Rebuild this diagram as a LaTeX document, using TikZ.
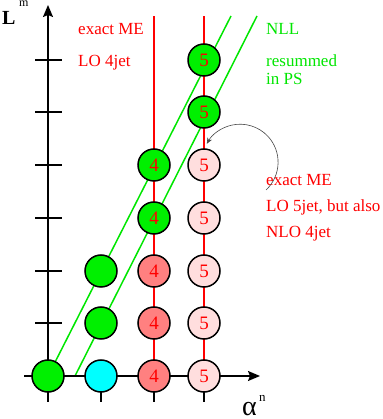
\documentclass[tikz,border=0pt]{standalone}
\usepackage{fontspec}
\setmainfont{Liberation Serif}
\usetikzlibrary{arrows.meta}
\definecolor{cgreen}{RGB}{0,240,0}
\definecolor{lgreen}{RGB}{0,230,0}
\definecolor{ccyan}{RGB}{0,255,255}
\definecolor{csalmon}{RGB}{255,128,128}
\definecolor{cpink}{RGB}{255,222,222}
\definecolor{cred}{RGB}{255,0,0}
\definecolor{cgray}{RGB}{70,70,70}
\begin{document}
\begin{tikzpicture}[x=1pt,y=1pt,
  ax/.style={line width=1.6pt,black},
  axarrow/.style={ax,-{Stealth[length=12pt,width=10pt,inset=2pt]}},
  tick/.style={line width=1.6pt,black},
  redline/.style={line width=1.5pt,cred},
  grnline/.style={line width=1.5pt,lgreen},
  dot/.style={circle,draw=black,line width=1.5pt,minimum size=32pt,inner sep=0pt,
    font=\fontsize{19}{19}\selectfont,text=cred},
  gdot/.style={dot,fill=cgreen},
  cdot/.style={dot,fill=ccyan},
  sdot/.style={dot,fill=csalmon},
  pdot/.style={dot,fill=cpink},
  redtxt/.style={anchor=base west,inner sep=0pt,text=cred,font=\fontsize{17}{20}\selectfont},
  grntxt/.style={anchor=base west,inner sep=0pt,text=lgreen,font=\fontsize{17}{20}\selectfont},
  arcstyle/.style={line width=0.6pt,cgray,-{Stealth[length=6pt,width=5pt]}}
]
\useasboundingbox (0,0) rectangle (382,419);

% coordinates
\coordinate (ybot) at (48,17);
\coordinate (ytop) at (48,414);
\coordinate (xleft) at (24,43);
\coordinate (xright) at (260,43);

% green (NLL) lines
\coordinate (g1a) at (48,43);  \coordinate (g1b) at (231,403);
\coordinate (g2a) at (75,43);  \coordinate (g2b) at (257,403);
\draw[grnline] (g1a) -- (g1b);
\draw[grnline] (g2a) -- (g2b);

% red lines
\coordinate (r4a) at (154,43); \coordinate (r4b) at (154,403);
\coordinate (r5a) at (204,43); \coordinate (r5b) at (204,403);
\draw[redline] (r4a) -- (r4b);
\draw[redline] (r5a) -- (r5b);

% axes
\draw[axarrow] (ybot) -- (ytop);
\draw[axarrow] (xleft) -- (xright);

% y ticks
\foreach \k/\yy in {1/96,2/148,3/201,4/254,5/307,6/359}{
  \coordinate (yt\k a) at (35,\yy);
  \coordinate (yt\k b) at (62,\yy);
  \draw[tick] (yt\k a) -- (yt\k b);
}
% x ticks
\foreach \xx/\n in {48/0,101/1,154/2,204/3}{
  \coordinate (xt\n a) at (\xx,43);
  \coordinate (xt\n b) at (\xx,17);
  \draw[tick] (xt\n a) -- (xt\n b);
}

% circles
\node[gdot] (c00) at (48,43) {};
\node[cdot] (c10) at (101,43) {};
\node[gdot] (c11) at (101,96) {};
\node[gdot] (c12) at (101,148) {};
\node[sdot] (c20) at (154,43) {4};
\node[sdot] (c21) at (154,96) {4};
\node[sdot] (c22) at (154,148) {4};
\node[gdot] (c23) at (154,201) {4};
\node[gdot] (c24) at (154,254) {4};
\node[pdot] (c30) at (204,43) {5};
\node[pdot] (c31) at (204,96) {5};
\node[pdot] (c32) at (204,148) {5};
\node[pdot] (c33) at (204,201) {5};
\node[pdot] (c34) at (204,254) {5};
\node[gdot] (c35) at (204,307) {5};
\node[gdot] (c36) at (204,359) {5};

% labels
\node[redtxt] (t1) at (78,384) {exact ME};
\node[redtxt] (t2) at (78,352) {LO 4jet};
\node[grntxt] (t3) at (266,384) {NLL};
\node[grntxt] (t4) at (266,352) {resummed};
\node[grntxt] (t5) at (266,334) {in PS};
\node[redtxt] (t6) at (266,233) {exact ME};
\node[redtxt] (t7) at (266,207) {LO 5jet, but also};
\node[redtxt] (t8) at (266,181) {NLO 4jet};

% axis labels
\node[anchor=base west,inner sep=0pt,font=\fontsize{20}{20}\selectfont\bfseries] (Lm) at (2,394) {L};
\node[anchor=base west,inner sep=0pt,font=\fontsize{12}{12}\selectfont] (Lsup) at (19,412) {m};
\node[anchor=base west,inner sep=0pt,font=\fontsize{28}{28}\selectfont] (an) at (242,4) {α};
\node[anchor=base west,inner sep=0pt,font=\fontsize{13}{13}\selectfont] (asup) at (259,17) {n};

% curved arrow
\coordinate (arcS) at (266,229);
\draw[arcstyle] (arcS) arc[start angle=-47,end angle=151,radius=38];
\end{tikzpicture}
\end{document}
